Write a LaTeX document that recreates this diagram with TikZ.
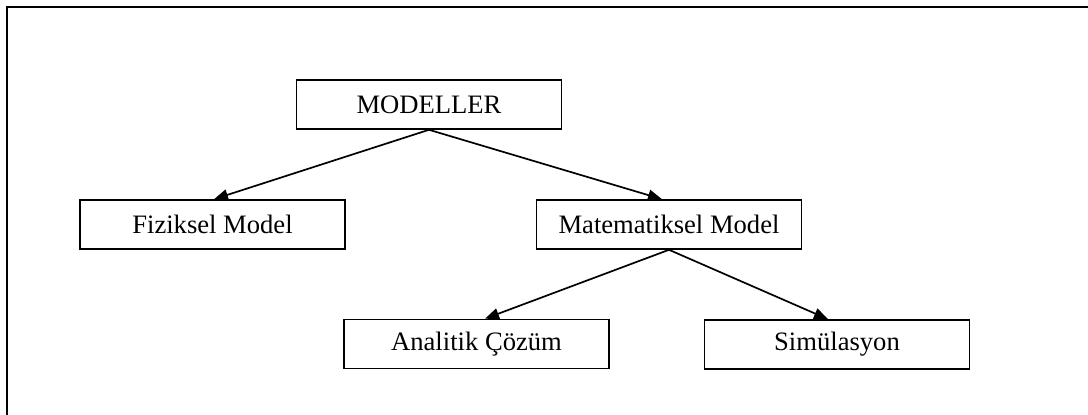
\documentclass[tikz,border=0pt]{standalone}
\usepackage{fontspec}
\setmainfont{Liberation Serif}
\usetikzlibrary{arrows.meta}
\begin{document}
\begin{tikzpicture}[x=0.5pt,y=-0.5pt,
  box/.style={draw=black, line width=0.8pt, minimum width=132.5pt, minimum height=24.5pt,
              inner sep=0pt, font=\fontsize{13.3}{15}\selectfont, fill=white},
  link/.style={line width=0.85pt, -{Triangle[length=7pt,width=5.5pt]}},
  frame/.style={line width=1.2pt}]
  \useasboundingbox (0,0) rectangle (1088,415);
  % outer frame (top and left edges)
  \coordinate (fb) at (7,420);
  \coordinate (fc) at (7,7);
  \coordinate (fr) at (1095,7);
  \draw[frame] (fb) -- (fc) -- (fr);
  % boxes
  \node[box] (mod) at (429,104.5) {\raisebox{-1pt}{MODELLER}};
  \node[box] (fiz) at (212.5,224.5) {\raisebox{-1pt}{Fiziksel Model}};
  \node[box] (mat) at (669,224.5) {\raisebox{-1pt}{Matematiksel Model}};
  \node[box] (ana) at (476.5,344) {\raisebox{-1pt}{Analitik Çözüm}};
  \node[box] (sim) at (837,344.5) {\raisebox{-1pt}{Simülasyon}};
  % connectors
  \draw[link] (mod.south) -- ([xshift=0.75pt]fiz.north);
  \draw[link] (mod.south) -- ([xshift=-3.5pt]mat.north);
  \draw[link] (mat.south) -- ([xshift=4.25pt]ana.north);
  \draw[link] (mat.south) -- ([xshift=-4.5pt]sim.north);
\end{tikzpicture}
\end{document}
